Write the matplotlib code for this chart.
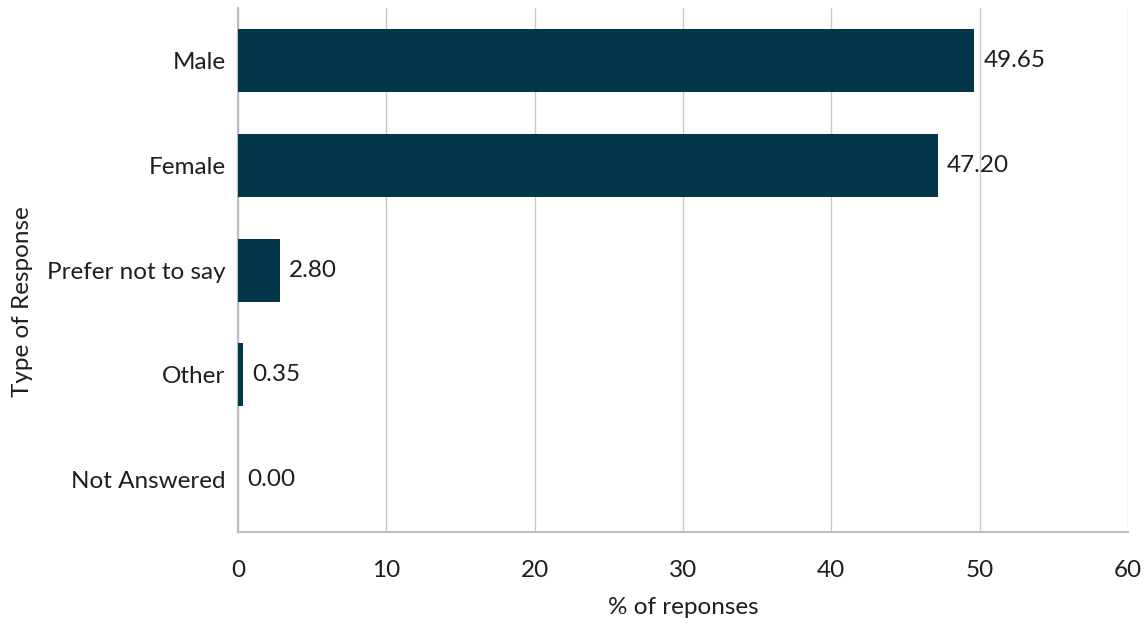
import matplotlib
matplotlib.use("Agg")
import matplotlib.pyplot as plt

categories = ["Male", "Female", "Prefer not to say", "Other", "Not Answered"]
values = [49.65, 47.20, 2.80, 0.35, 0.00]
xticks = [0, 10, 20, 30, 40, 50, 60]

plt.rcParams['font.family'] = ['Lato', 'DejaVu Sans']
fs = 17.5
txt = '#1e1e1e'

fig = plt.figure(figsize=(11.48, 6.23), dpi=100)
ax = fig.add_axes([0.2073, 0.146, 0.7753, 0.841])

pos = list(range(len(categories)))
bars = ax.barh(pos, values, height=0.6, color='#033648', zorder=3)
ax.set_ylim(len(categories) - 0.5, -0.5)
ax.set_xlim(0, 60)
ax.set_xticks(xticks)
ax.set_yticks(pos)
ax.set_yticklabels(categories)

# value labels just past the end of each bar
for b, v in zip(bars, values):
    ax.text(b.get_width() + 0.6, b.get_y() + b.get_height() / 2, f"{v:.2f}",
            va='center', ha='left', fontsize=fs, color=txt)

ax.grid(axis='x', color='#c8c8c8', linewidth=1, zorder=0)
ax.tick_params(axis='both', length=0, labelsize=fs, colors=txt)
ax.tick_params(axis='x', pad=20)
ax.tick_params(axis='y', pad=9)
for side in ['top', 'right']:
    ax.spines[side].set_visible(False)
for side in ['left', 'bottom']:
    ax.spines[side].set_color('#bdbdbd')
    ax.spines[side].set_linewidth(1.5)

ax.set_xlabel("% of reponses", fontsize=fs, color=txt, labelpad=12)
ax.set_ylabel("Type of Response", fontsize=fs, color=txt)
ax.yaxis.set_label_coords(-0.23, 0.44)

fig.savefig("out.png", dpi=100)
